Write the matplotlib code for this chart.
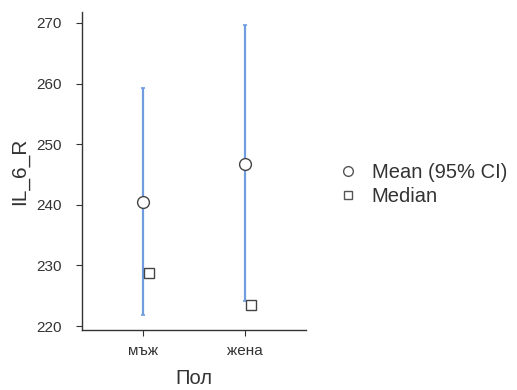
import matplotlib
matplotlib.use('Agg')
import matplotlib.pyplot as plt
from matplotlib.lines import Line2D

plt.rcParams['font.family'] = ['Liberation Sans', 'DejaVu Sans']

groups = ['мъж', 'жена']
means = [240.5, 246.8]
ci_low = [221.8, 224.1]
ci_high = [259.2, 269.7]
medians = [228.7, 223.4]

fig = plt.figure(figsize=(5.17, 3.9), dpi=100)
ax = fig.add_axes([0.1586, 0.1538, 0.4333, 0.8154])

x = [1, 2]
err = [[m - l for m, l in zip(means, ci_low)], [h - m for m, h in zip(means, ci_high)]]
ax.errorbar(x, means, yerr=err, fmt='none', ecolor='#6f9de0', elinewidth=1.6,
            capsize=1.5, capthick=1.2, zorder=2)
ax.plot(x, means, 'o', ms=8.5, mfc='white', mec='#444444', mew=1.0, zorder=3)
ax.plot([v + 0.055 for v in x], medians, 's', ms=7, mfc='white', mec='#444444', mew=1.0, zorder=3)

ax.set_xlim(0.4, 2.6)
ax.set_ylim(219.35, 271.8)
ax.set_xticks(x)
ax.set_xticklabels(groups)
ax.set_yticks([220, 230, 240, 250, 260, 270])

for s in ['top', 'right']:
    ax.spines[s].set_visible(False)
for s in ['left', 'bottom']:
    ax.spines[s].set_color('#333333')
    ax.spines[s].set_linewidth(1.0)
ax.tick_params(colors='#333333', labelsize=11, length=4)
ax.tick_params(axis='x', pad=6)
ax.tick_params(axis='y', pad=10.5)

ax.set_xlabel('Пол', fontsize=14.5, color='#333333', labelpad=8)
ax.set_ylabel('IL_6_R', fontsize=15, color='#333333', labelpad=5)

handles = [
    Line2D([], [], marker='o', ls='none', ms=7, mfc='white', mec='#555555', mew=1.0),
    Line2D([], [], marker='s', ls='none', ms=6, mfc='white', mec='#555555', mew=1.0),
]
fig.legend(handles, ['Mean (95% CI)', 'Median'], loc='center left',
           bbox_to_anchor=(0.618, 0.527), frameon=False, fontsize=14.5,
           handletextpad=0.7, labelspacing=0.25, handlelength=1.0,
           labelcolor='#333333')

fig.savefig('out.png', dpi=100)
